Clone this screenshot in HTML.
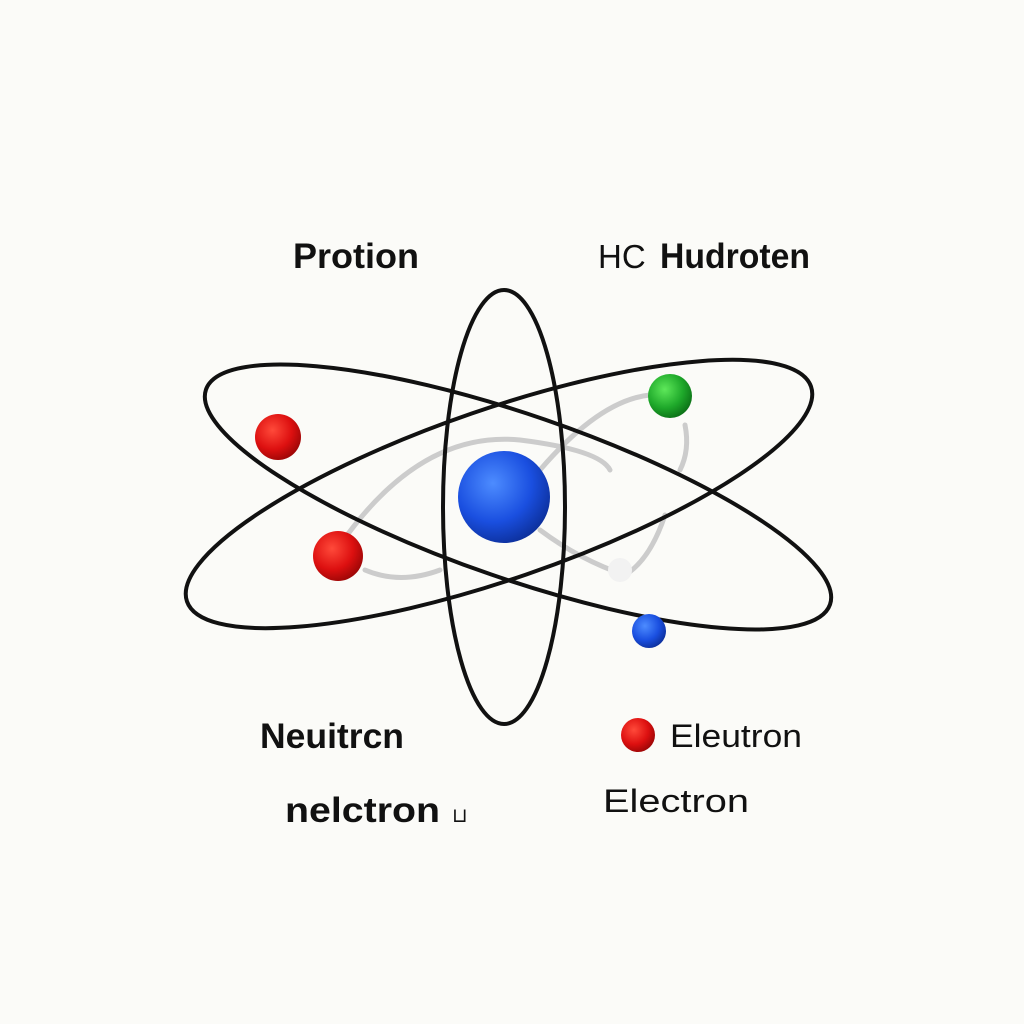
<!DOCTYPE html>
<html><head><style>
body{margin:0;background:#fbfbf8;}
svg{display:block}
text{font-family:"Liberation Sans",sans-serif;font-weight:bold;fill:#111}
</style></head><body>
<svg width="1024" height="1024" viewBox="0 0 1024 1024">
<defs>
<radialGradient id="bl" cx="0.38" cy="0.35" r="0.7"><stop offset="0" stop-color="#4d8cff"/><stop offset="0.6" stop-color="#1a4fe0"/><stop offset="1" stop-color="#0c2f9a"/></radialGradient>
<radialGradient id="rd" cx="0.38" cy="0.35" r="0.7"><stop offset="0" stop-color="#ff4a3a"/><stop offset="0.6" stop-color="#dd1010"/><stop offset="1" stop-color="#9a0606"/></radialGradient>
<radialGradient id="gr" cx="0.38" cy="0.35" r="0.7"><stop offset="0" stop-color="#5ee85a"/><stop offset="0.6" stop-color="#1ea82a"/><stop offset="1" stop-color="#0b6e16"/></radialGradient>
</defs>
<g fill="none" stroke="#ccc" stroke-width="5" stroke-linecap="round">
<path d="M340 545 Q420 430 520 440 Q600 450 610 470"/>
<path d="M365 570 Q400 585 440 570"/>
<path d="M540 470 Q600 400 650 395"/>
<path d="M685 425 Q690 450 680 470"/>
<path d="M540 530 Q580 560 625 575 Q650 560 665 515"/>
</g>
<g fill="none" stroke="#111" stroke-width="4">
<ellipse cx="504" cy="507" rx="61" ry="217"/>
<ellipse cx="518" cy="497" rx="330" ry="82" transform="rotate(19 518 497)"/>
<ellipse cx="499" cy="494" rx="330" ry="85" transform="rotate(-19 499 494)"/>
</g>
<circle cx="620" cy="570" r="12" fill="#f2f2f2"/>
<circle cx="504" cy="497" r="46" fill="url(#bl)"/>
<circle cx="278" cy="437" r="23" fill="url(#rd)"/>
<circle cx="338" cy="556" r="25" fill="url(#rd)"/>
<circle cx="670" cy="396" r="22" fill="url(#gr)"/>
<circle cx="649" cy="631" r="17" fill="url(#bl)"/>
<circle cx="638" cy="735" r="17" fill="url(#rd)"/>
<text x="293" y="268" font-size="35" textLength="126" lengthAdjust="spacingAndGlyphs">Protion</text>
<text x="598" y="268" font-size="33" style="font-weight:normal">HC</text>
<text x="660" y="268" font-size="35" textLength="150" lengthAdjust="spacingAndGlyphs">Hudroten</text>
<text x="260" y="748" font-size="35" textLength="144" lengthAdjust="spacingAndGlyphs">Neuitrcn</text>
<text x="670" y="747" font-size="32" textLength="132" lengthAdjust="spacingAndGlyphs" style="font-weight:normal">Eleutron</text>
<text x="285" y="822" font-size="35" textLength="155" lengthAdjust="spacingAndGlyphs">nelctron</text>
<text x="452" y="822" font-size="20" style="font-weight:normal">⊔</text>
<text x="603" y="812" font-size="32" textLength="146" lengthAdjust="spacingAndGlyphs" style="font-weight:normal">Electron</text>
</svg>
</body></html>
